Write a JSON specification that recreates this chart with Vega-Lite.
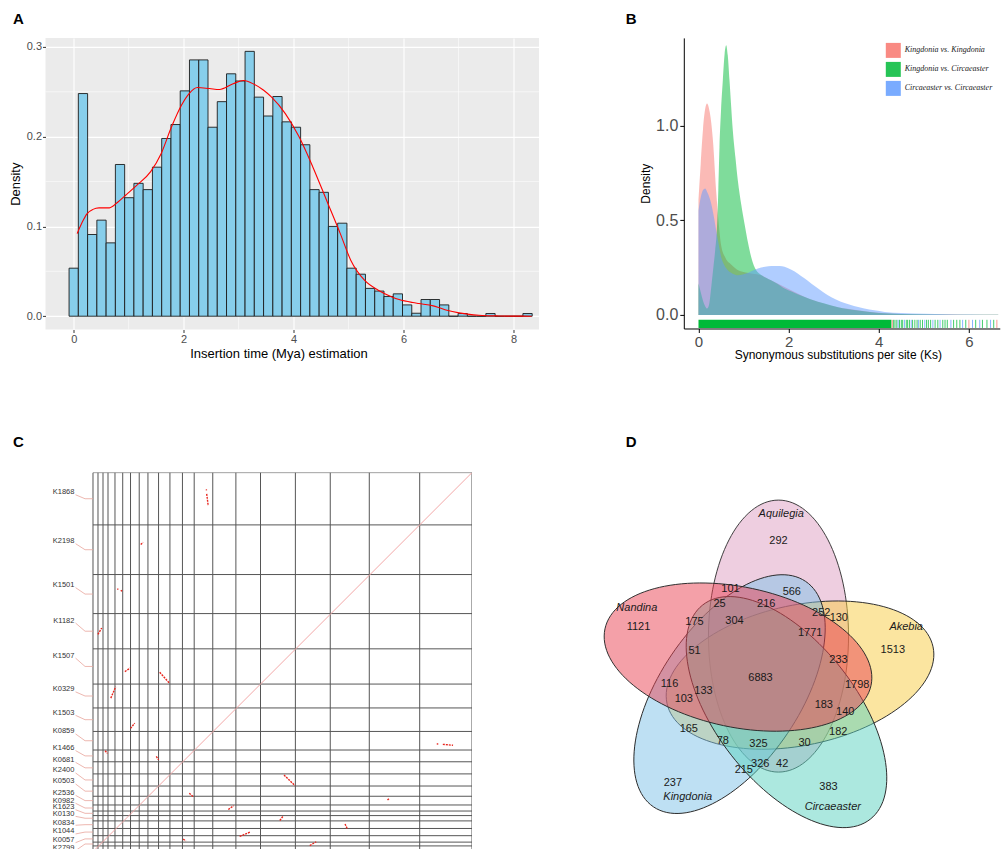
{
"$schema": "https://vega.github.io/schema/vega-lite/v6.json",
"padding": {"left": 8.5, "top": 10.9, "right": 0, "bottom": 0},
"bounds": "flush",
"align": "each",
"columns": 2,
"spacing": {"row": 142.7, "column": 144.3},
"resolve": {"scale": {"color": "independent"}, "legend": {"color": "independent"}},
"config": {"font": "Liberation Sans", "view": {"stroke": null}, "axis": {"titleFontWeight": "normal"}},
"datasets": {
"a_bins": [
{"start":-0.0843,"end":0.0843,"density":0.0535},{"start":0.0843,"end":0.2528,"density":0.248},{"start":0.2528,"end":0.4213,"density":0.091},{"start":0.4213,"end":0.5898,"density":0.107},{"start":0.5898,"end":0.7583,"density":0.0817},
{"start":0.7583,"end":0.9268,"density":0.169},{"start":0.9268,"end":1.0953,"density":0.132},{"start":1.0953,"end":1.2638,"density":0.148},{"start":1.2638,"end":1.4323,"density":0.141},{"start":1.4323,"end":1.6008,"density":0.166},
{"start":1.6008,"end":1.7693,"density":0.198},{"start":1.7693,"end":1.9378,"density":0.2135},{"start":1.9378,"end":2.1063,"density":0.251},{"start":2.1063,"end":2.2748,"density":0.2855},{"start":2.2748,"end":2.4433,"density":0.2855},
{"start":2.4433,"end":2.6118,"density":0.2105},{"start":2.6118,"end":2.7803,"density":0.239},{"start":2.7803,"end":2.9488,"density":0.27},{"start":2.9488,"end":3.1173,"density":0.262},{"start":3.1173,"end":3.2858,"density":0.295},
{"start":3.2858,"end":3.4543,"density":0.244},{"start":3.4543,"end":3.6228,"density":0.223},{"start":3.6228,"end":3.7913,"density":0.2447},{"start":3.7913,"end":3.9598,"density":0.2165},{"start":3.9598,"end":4.1283,"density":0.2105},
{"start":4.1283,"end":4.2968,"density":0.191},{"start":4.2968,"end":4.4653,"density":0.141},{"start":4.4653,"end":4.6338,"density":0.138},{"start":4.6338,"end":4.8023,"density":0.1},{"start":4.8023,"end":4.9708,"density":0.1036},
{"start":4.9708,"end":5.1393,"density":0.0535},{"start":5.1393,"end":5.3078,"density":0.0468},{"start":5.3078,"end":5.4763,"density":0.031},{"start":5.4763,"end":5.6448,"density":0.028},{"start":5.6448,"end":5.8133,"density":0.022},
{"start":5.8133,"end":5.9818,"density":0.0249},{"start":5.9818,"end":6.1503,"density":0.0126},{"start":6.1503,"end":6.3188,"density":0.0033},{"start":6.3188,"end":6.4873,"density":0.0186},{"start":6.4873,"end":6.6558,"density":0.0186},
{"start":6.6558,"end":6.8243,"density":0.0126},{"start":6.8243,"end":6.9928,"density":0},{"start":6.9928,"end":7.1613,"density":0.003},{"start":7.1613,"end":7.3298,"density":0},{"start":7.3298,"end":7.4983,"density":0},
{"start":7.4983,"end":7.6668,"density":0.003},{"start":7.6668,"end":7.8353,"density":0},{"start":7.8353,"end":8.0038,"density":0},{"start":8.0038,"end":8.1723,"density":0},{"start":8.1723,"end":8.3408,"density":0.003}
],
"a_line": [
{"x":0.063,"y":0.092},{"x":0.15,"y":0.104},{"x":0.24,"y":0.114},{"x":0.35,"y":0.119},{"x":0.46,"y":0.1207},{"x":0.65,"y":0.1207},{"x":0.8,"y":0.127},{"x":0.95,"y":0.135},{"x":1.15,"y":0.146},{"x":1.4,"y":0.161},
{"x":1.59,"y":0.181},{"x":1.78,"y":0.211},{"x":1.96,"y":0.235},{"x":2.1,"y":0.248},{"x":2.25,"y":0.2547},{"x":2.47,"y":0.2536},{"x":2.65,"y":0.2525},{"x":2.9,"y":0.259},{"x":3.09,"y":0.2625},{"x":3.28,"y":0.2584},
{"x":3.45,"y":0.252},{"x":3.6,"y":0.244},{"x":3.85,"y":0.2257},{"x":4.1,"y":0.1998},{"x":4.35,"y":0.1663},{"x":4.6,"y":0.1292},{"x":4.85,"y":0.092},{"x":5.04,"y":0.0624},{"x":5.29,"y":0.0401},{"x":5.54,"y":0.029},
{"x":5.79,"y":0.0215},{"x":5.92,"y":0.0186},{"x":6.17,"y":0.0152},{"x":6.28,"y":0.0141},{"x":6.54,"y":0.0115},{"x":6.64,"y":0.0097},{"x":6.79,"y":0.0067},{"x":7.01,"y":0.0037},{"x":7.2,"y":0.002},{"x":7.37,"y":0.0011},
{"x":7.73,"y":0.0003},{"x":8.0,"y":0.0001},{"x":8.33,"y":0}
],
"a_minor_x": [{"v":1},{"v":3},{"v":5},{"v":7}],
"a_minor_y": [{"v":0.05},{"v":0.15},{"v":0.25}],
"b_dens": [
{"g":"Kingdonia vs. Kingdonia","ks":0,"d":0.61},{"g":"Kingdonia vs. Kingdonia","ks":0.05,"d":0.8},{"g":"Kingdonia vs. Kingdonia","ks":0.1,"d":0.98},{"g":"Kingdonia vs. Kingdonia","ks":0.15,"d":1.09},{"g":"Kingdonia vs. Kingdonia","ks":0.19,"d":1.117},
{"g":"Kingdonia vs. Kingdonia","ks":0.25,"d":1.07},{"g":"Kingdonia vs. Kingdonia","ks":0.32,"d":0.923},{"g":"Kingdonia vs. Kingdonia","ks":0.39,"d":0.66},{"g":"Kingdonia vs. Kingdonia","ks":0.45,"d":0.48},{"g":"Kingdonia vs. Kingdonia","ks":0.5,"d":0.37},
{"g":"Kingdonia vs. Kingdonia","ks":0.6,"d":0.3},{"g":"Kingdonia vs. Kingdonia","ks":0.73,"d":0.265},{"g":"Kingdonia vs. Kingdonia","ks":0.85,"d":0.24},{"g":"Kingdonia vs. Kingdonia","ks":1.02,"d":0.225},{"g":"Kingdonia vs. Kingdonia","ks":1.2,"d":0.218},
{"g":"Kingdonia vs. Kingdonia","ks":1.39,"d":0.21},{"g":"Kingdonia vs. Kingdonia","ks":1.55,"d":0.19},{"g":"Kingdonia vs. Kingdonia","ks":1.69,"d":0.174},{"g":"Kingdonia vs. Kingdonia","ks":1.91,"d":0.148},{"g":"Kingdonia vs. Kingdonia","ks":2.2,"d":0.113},
{"g":"Kingdonia vs. Kingdonia","ks":2.45,"d":0.085},{"g":"Kingdonia vs. Kingdonia","ks":2.65,"d":0.069},{"g":"Kingdonia vs. Kingdonia","ks":3.09,"d":0.04},{"g":"Kingdonia vs. Kingdonia","ks":3.53,"d":0.025},{"g":"Kingdonia vs. Kingdonia","ks":4.12,"d":0.009},
{"g":"Kingdonia vs. Kingdonia","ks":4.6,"d":0.004},{"g":"Kingdonia vs. Kingdonia","ks":5.2,"d":0.002},{"g":"Kingdonia vs. Kingdonia","ks":6.0,"d":0.001},{"g":"Kingdonia vs. Kingdonia","ks":6.65,"d":0.0005},
{"g":"Kingdonia vs. Circaeaster","ks":0,"d":0.166},{"g":"Kingdonia vs. Circaeaster","ks":0.05,"d":0.12},{"g":"Kingdonia vs. Circaeaster","ks":0.1,"d":0.075},{"g":"Kingdonia vs. Circaeaster","ks":0.15,"d":0.045},{"g":"Kingdonia vs. Circaeaster","ks":0.193,"d":0.034},
{"g":"Kingdonia vs. Circaeaster","ks":0.24,"d":0.06},{"g":"Kingdonia vs. Circaeaster","ks":0.28,"d":0.14},{"g":"Kingdonia vs. Circaeaster","ks":0.33,"d":0.25},{"g":"Kingdonia vs. Circaeaster","ks":0.37,"d":0.34},{"g":"Kingdonia vs. Circaeaster","ks":0.407,"d":0.447},
{"g":"Kingdonia vs. Circaeaster","ks":0.44,"d":0.66},{"g":"Kingdonia vs. Circaeaster","ks":0.466,"d":0.887},{"g":"Kingdonia vs. Circaeaster","ks":0.5,"d":1.08},{"g":"Kingdonia vs. Circaeaster","ks":0.54,"d":1.24},{"g":"Kingdonia vs. Circaeaster","ks":0.58,"d":1.38},
{"g":"Kingdonia vs. Circaeaster","ks":0.614,"d":1.425},{"g":"Kingdonia vs. Circaeaster","ks":0.65,"d":1.37},{"g":"Kingdonia vs. Circaeaster","ks":0.688,"d":1.24},{"g":"Kingdonia vs. Circaeaster","ks":0.72,"d":1.12},{"g":"Kingdonia vs. Circaeaster","ks":0.761,"d":0.976},
{"g":"Kingdonia vs. Circaeaster","ks":0.82,"d":0.83},{"g":"Kingdonia vs. Circaeaster","ks":0.872,"d":0.711},{"g":"Kingdonia vs. Circaeaster","ks":0.95,"d":0.58},{"g":"Kingdonia vs. Circaeaster","ks":1.02,"d":0.483},{"g":"Kingdonia vs. Circaeaster","ks":1.1,"d":0.38},
{"g":"Kingdonia vs. Circaeaster","ks":1.169,"d":0.306},{"g":"Kingdonia vs. Circaeaster","ks":1.23,"d":0.26},{"g":"Kingdonia vs. Circaeaster","ks":1.28,"d":0.236},{"g":"Kingdonia vs. Circaeaster","ks":1.4,"d":0.21},{"g":"Kingdonia vs. Circaeaster","ks":1.61,"d":0.183},
{"g":"Kingdonia vs. Circaeaster","ks":1.75,"d":0.165},{"g":"Kingdonia vs. Circaeaster","ks":1.91,"d":0.139},{"g":"Kingdonia vs. Circaeaster","ks":2.1,"d":0.12},{"g":"Kingdonia vs. Circaeaster","ks":2.3,"d":0.1},{"g":"Kingdonia vs. Circaeaster","ks":2.5,"d":0.082},
{"g":"Kingdonia vs. Circaeaster","ks":2.8,"d":0.06},{"g":"Kingdonia vs. Circaeaster","ks":3.1,"d":0.04},{"g":"Kingdonia vs. Circaeaster","ks":3.5,"d":0.024},{"g":"Kingdonia vs. Circaeaster","ks":4.0,"d":0.01},{"g":"Kingdonia vs. Circaeaster","ks":4.5,"d":0.005},
{"g":"Kingdonia vs. Circaeaster","ks":5.2,"d":0.002},{"g":"Kingdonia vs. Circaeaster","ks":6.0,"d":0.001},{"g":"Kingdonia vs. Circaeaster","ks":6.65,"d":0.0005},
{"g":"Circaeaster vs. Circaeaster","ks":0,"d":0.55},{"g":"Circaeaster vs. Circaeaster","ks":0.05,"d":0.62},{"g":"Circaeaster vs. Circaeaster","ks":0.1,"d":0.66},{"g":"Circaeaster vs. Circaeaster","ks":0.148,"d":0.668},{"g":"Circaeaster vs. Circaeaster","ks":0.2,"d":0.645},
{"g":"Circaeaster vs. Circaeaster","ks":0.28,"d":0.59},{"g":"Circaeaster vs. Circaeaster","ks":0.34,"d":0.52},{"g":"Circaeaster vs. Circaeaster","ks":0.392,"d":0.447},{"g":"Circaeaster vs. Circaeaster","ks":0.45,"d":0.37},{"g":"Circaeaster vs. Circaeaster","ks":0.503,"d":0.306},
{"g":"Circaeaster vs. Circaeaster","ks":0.58,"d":0.26},{"g":"Circaeaster vs. Circaeaster","ks":0.651,"d":0.236},{"g":"Circaeaster vs. Circaeaster","ks":0.76,"d":0.218},{"g":"Circaeaster vs. Circaeaster","ks":0.872,"d":0.21},{"g":"Circaeaster vs. Circaeaster","ks":0.98,"d":0.214},
{"g":"Circaeaster vs. Circaeaster","ks":1.095,"d":0.222},{"g":"Circaeaster vs. Circaeaster","ks":1.25,"d":0.238},{"g":"Circaeaster vs. Circaeaster","ks":1.39,"d":0.25},{"g":"Circaeaster vs. Circaeaster","ks":1.55,"d":0.257},{"g":"Circaeaster vs. Circaeaster","ks":1.686,"d":0.259},
{"g":"Circaeaster vs. Circaeaster","ks":1.8,"d":0.258},{"g":"Circaeaster vs. Circaeaster","ks":1.908,"d":0.254},{"g":"Circaeaster vs. Circaeaster","ks":2.05,"d":0.24},{"g":"Circaeaster vs. Circaeaster","ks":2.2,"d":0.219},{"g":"Circaeaster vs. Circaeaster","ks":2.35,"d":0.193},
{"g":"Circaeaster vs. Circaeaster","ks":2.5,"d":0.166},{"g":"Circaeaster vs. Circaeaster","ks":2.7,"d":0.132},{"g":"Circaeaster vs. Circaeaster","ks":2.87,"d":0.104},{"g":"Circaeaster vs. Circaeaster","ks":3.05,"d":0.082},{"g":"Circaeaster vs. Circaeaster","ks":3.24,"d":0.063},
{"g":"Circaeaster vs. Circaeaster","ks":3.45,"d":0.047},{"g":"Circaeaster vs. Circaeaster","ks":3.68,"d":0.034},{"g":"Circaeaster vs. Circaeaster","ks":3.9,"d":0.024},{"g":"Circaeaster vs. Circaeaster","ks":4.13,"d":0.016},{"g":"Circaeaster vs. Circaeaster","ks":4.5,"d":0.01},
{"g":"Circaeaster vs. Circaeaster","ks":5.0,"d":0.006},{"g":"Circaeaster vs. Circaeaster","ks":5.5,"d":0.004},{"g":"Circaeaster vs. Circaeaster","ks":6.0,"d":0.002},{"g":"Circaeaster vs. Circaeaster","ks":6.65,"d":0.001}
],
"b_rugband": [{"g":"Kingdonia vs. Circaeaster","from":0,"to":4.28}],
"b_rug": [
{"ks":4.3,"g":"Kingdonia vs. Kingdonia"},{"ks":4.33,"g":"Kingdonia vs. Circaeaster"},{"ks":4.36,"g":"Kingdonia vs. Circaeaster"},{"ks":4.4,"g":"Kingdonia vs. Circaeaster"},{"ks":4.43,"g":"Circaeaster vs. Circaeaster"},
{"ks":4.46,"g":"Kingdonia vs. Circaeaster"},{"ks":4.5,"g":"Kingdonia vs. Circaeaster"},{"ks":4.53,"g":"Kingdonia vs. Circaeaster"},{"ks":4.57,"g":"Circaeaster vs. Circaeaster"},{"ks":4.61,"g":"Kingdonia vs. Circaeaster"},
{"ks":4.64,"g":"Kingdonia vs. Circaeaster"},{"ks":4.68,"g":"Kingdonia vs. Circaeaster"},{"ks":4.72,"g":"Circaeaster vs. Circaeaster"},{"ks":4.75,"g":"Kingdonia vs. Circaeaster"},{"ks":4.8,"g":"Kingdonia vs. Circaeaster"},
{"ks":4.85,"g":"Kingdonia vs. Circaeaster"},{"ks":4.88,"g":"Circaeaster vs. Circaeaster"},{"ks":4.92,"g":"Kingdonia vs. Circaeaster"},{"ks":4.97,"g":"Kingdonia vs. Circaeaster"},{"ks":5.02,"g":"Circaeaster vs. Circaeaster"},
{"ks":5.06,"g":"Kingdonia vs. Circaeaster"},{"ks":5.1,"g":"Kingdonia vs. Circaeaster"},{"ks":5.15,"g":"Kingdonia vs. Circaeaster"},{"ks":5.2,"g":"Circaeaster vs. Circaeaster"},{"ks":5.25,"g":"Kingdonia vs. Circaeaster"},
{"ks":5.31,"g":"Kingdonia vs. Circaeaster"},{"ks":5.36,"g":"Circaeaster vs. Circaeaster"},{"ks":5.42,"g":"Kingdonia vs. Circaeaster"},{"ks":5.47,"g":"Kingdonia vs. Circaeaster"},{"ks":5.52,"g":"Kingdonia vs. Circaeaster"},
{"ks":5.6,"g":"Circaeaster vs. Circaeaster"},{"ks":5.66,"g":"Kingdonia vs. Circaeaster"},{"ks":5.73,"g":"Kingdonia vs. Circaeaster"},{"ks":5.8,"g":"Kingdonia vs. Circaeaster"},{"ks":5.86,"g":"Circaeaster vs. Circaeaster"},
{"ks":5.93,"g":"Kingdonia vs. Circaeaster"},{"ks":6.0,"g":"Kingdonia vs. Kingdonia"},{"ks":6.08,"g":"Circaeaster vs. Circaeaster"},{"ks":6.15,"g":"Kingdonia vs. Circaeaster"},{"ks":6.24,"g":"Circaeaster vs. Circaeaster"},
{"ks":6.3,"g":"Kingdonia vs. Circaeaster"},{"ks":6.4,"g":"Kingdonia vs. Circaeaster"},{"ks":6.48,"g":"Circaeaster vs. Circaeaster"},{"ks":6.55,"g":"Kingdonia vs. Circaeaster"},{"ks":6.62,"g":"Kingdonia vs. Kingdonia"}
],
"c_vlines": [{"pos":0},{"pos":1.32},{"pos":2.64},{"pos":3.96},{"pos":5.8},{"pos":7.84},{"pos":9.9},{"pos":12.2},{"pos":14.5},{"pos":17.3},{"pos":20.3},{"pos":23.6},{"pos":26.7},{"pos":31.6},{"pos":37.7},{"pos":44.2},{"pos":53.4},{"pos":62.6},{"pos":72.9},{"pos":86.2},{"pos":100}],
"c_hlines": [{"pos":0},{"pos":13.8},{"pos":26.9},{"pos":37.2},{"pos":46.5},{"pos":55.8},{"pos":62.1},{"pos":68.3},{"pos":73.2},{"pos":76.3},{"pos":79.5},{"pos":82.7},{"pos":85.4},{"pos":87.7},{"pos":89.3},{"pos":90.5},{"pos":91.9},{"pos":93.9},{"pos":95.8},{"pos":97.5},{"pos":98.5}],
"c_diag": [{"x1":0,"y1":100,"x2":100,"y2":0}],
"c_labels": [
{"label":"K1868","ly":5.85,"ty":6.9},{"label":"K2198","ly":18.75,"ty":20.35},{"label":"K1501","ly":30.35,"ty":32.05},{"label":"K1182","ly":39.7,"ty":41.85},{"label":"K1507","ly":48.95,"ty":51.15},
{"label":"K0329","ly":57.85,"ty":58.95},{"label":"K1503","ly":64.05,"ty":65.2},{"label":"K0859","ly":68.95,"ty":70.75},{"label":"K1466","ly":73.35,"ty":74.75},{"label":"K0681","ly":76.45,"ty":77.9},
{"label":"K2400","ly":79.25,"ty":81.1},{"label":"K0503","ly":82.15,"ty":84.05},{"label":"K2536","ly":85.15,"ty":86.55},{"label":"K0982","ly":87.25,"ty":88.5},{"label":"K1623","ly":88.95,"ty":89.9},
{"label":"K0130","ly":90.7,"ty":91.2},{"label":"K0834","ly":93.05,"ty":92.9},{"label":"K1044","ly":95.35,"ty":94.85},{"label":"K0057","ly":97.65,"ty":96.65},{"label":"K2799","ly":99.75,"ty":98.0}
],
"c_blocks": [
{"x1":29.9,"y1":4.4,"x2":29.95,"y2":4.7},{"x1":30.0,"y1":5.6,"x2":30.4,"y2":8.8},{"x1":12.6,"y1":19.0,"x2":13.2,"y2":18.4},{"x1":6.4,"y1":30.7,"x2":6.7,"y2":30.8},{"x1":7.3,"y1":31.1,"x2":7.7,"y2":31.3},
{"x1":1.3,"y1":42.7,"x2":2.3,"y2":41.0},{"x1":8.4,"y1":52.5,"x2":9.8,"y2":51.6},{"x1":17.6,"y1":52.7,"x2":20.2,"y2":55.6},{"x1":4.7,"y1":59.5,"x2":6.0,"y2":56.5},{"x1":9.9,"y1":67.5,"x2":11.0,"y2":66.1},
{"x1":90.7,"y1":71.6,"x2":91.1,"y2":71.6},{"x1":92.3,"y1":71.7,"x2":95.0,"y2":71.95},{"x1":3.2,"y1":73.4,"x2":3.8,"y2":74.1},{"x1":16.7,"y1":74.9,"x2":17.3,"y2":75.8},{"x1":50.4,"y1":79.8,"x2":53.3,"y2":82.6},
{"x1":25.4,"y1":84.6,"x2":26.4,"y2":85.5},{"x1":77.7,"y1":86.4,"x2":78.2,"y2":85.9},{"x1":35.7,"y1":88.9,"x2":37.1,"y2":87.9},{"x1":49.3,"y1":91.8,"x2":50.1,"y2":90.7},{"x1":66.5,"y1":92.7,"x2":67.1,"y2":94.0},
{"x1":38.7,"y1":96.0,"x2":41.6,"y2":94.8},{"x1":23.8,"y1":96.7,"x2":24.5,"y2":97.2},{"x1":57.2,"y1":98.4,"x2":58.9,"y2":97.4}
],
"d_sets": [
{"set":"Aquilegia","u":50.13,"v":56.5,"angle":90},
{"set":"Akebia","u":55.84,"v":46.15,"angle":348},
{"set":"Kingdonia","u":37.14,"v":41.11,"angle":304},
{"set":"Circaeaster","u":52.25,"v":36.34,"angle":52},
{"set":"Nandina","u":39.39,"v":50.93,"angle":12}
],
"d_counts": [
{"n":"292","u":50.13,"v":81.7},{"n":"101","u":37.4,"v":68.9},{"n":"566","u":53.66,"v":68.17},{"n":"25","u":34.48,"v":64.99},{"n":"216","u":46.87,"v":64.99},
{"n":"1121","u":13.0,"v":58.97},{"n":"175","u":27.85,"v":60.29},{"n":"304","u":38.46,"v":60.48},{"n":"252","u":61.46,"v":62.52},{"n":"130","u":66.13,"v":61.19},
{"n":"1771","u":58.54,"v":57.21},{"n":"51","u":27.85,"v":52.6},{"n":"1513","u":80.45,"v":52.79},{"n":"233","u":66.05,"v":50.27},{"n":"6883","u":45.36,"v":45.5},
{"n":"116","u":21.22,"v":43.77},{"n":"1798","u":71.0,"v":43.5},{"n":"133","u":30.24,"v":41.96},{"n":"103","u":25.01,"v":39.79},{"n":"183","u":62.15,"v":38.2},
{"n":"140","u":67.82,"v":36.26},{"n":"165","u":26.34,"v":31.83},{"n":"182","u":65.97,"v":31.11},{"n":"78","u":35.36,"v":28.73},{"n":"325","u":44.83,"v":27.85},
{"n":"30","u":57.03,"v":28.04},{"n":"326","u":45.28,"v":22.55},{"n":"42","u":51.11,"v":22.55},{"n":"215","u":40.93,"v":20.95},{"n":"237","u":22.1,"v":17.64},{"n":"383","u":63.4,"v":16.5}
],
"d_names": [
{"n":"Aquilegia","u":50.85,"v":88.86},{"n":"Nandina","u":12.55,"v":63.85},{"n":"Akebia","u":84.0,"v":58.97},{"n":"Kingdonia","u":26.07,"v":13.69},{"n":"Circaeaster","u":64.54,"v":11.22}
]
},
"concat": [
{
"width": 493.5, "height": 291.6,
"view": {"fill": "#EBEBEB", "stroke": null},
"title": {"text": "A", "anchor": "start", "frame": "group", "dx": -32.5, "offset": 10.8, "fontSize": 15, "fontWeight": "bold", "color": "#000000"},
"layer": [
{"data": {"name": "a_minor_x"}, "mark": {"type": "rule", "color": "#FFFFFF", "strokeWidth": 0.55},
 "encoding": {"x": {"field": "v", "type": "quantitative", "scale": {"domain": [-0.513, 8.465], "nice": false, "zero": false},
   "axis": {"values": [0, 2, 4, 6, 8], "grid": true, "gridColor": "#FFFFFF", "gridWidth": 1.1, "domain": false, "tickColor": "#333333", "tickSize": 3, "labelColor": "#4D4D4D", "labelFontSize": 11, "labelPadding": 1.5, "title": "Insertion time (Mya) estimation", "titleFontSize": 13, "titleColor": "#000000", "titlePadding": 3, "titleX": 233}}}},
{"data": {"name": "a_minor_y"}, "mark": {"type": "rule", "color": "#FFFFFF", "strokeWidth": 0.55},
 "encoding": {"y": {"field": "v", "type": "quantitative", "scale": {"domain": [-0.0148, 0.31], "nice": false, "zero": false},
   "axis": {"values": [0, 0.1, 0.2, 0.3], "format": ".1f", "grid": true, "gridColor": "#FFFFFF", "gridWidth": 1.1, "domain": false, "tickColor": "#333333", "tickSize": 3, "labelColor": "#4D4D4D", "labelFontSize": 11, "labelPadding": 1, "title": "Density", "titleFontSize": 13, "titleColor": "#000000", "titlePadding": 4}}}},
{"data": {"name": "a_bins"}, "mark": {"type": "rect", "fill": "#87CEEB", "stroke": "#1C1C1C", "strokeWidth": 0.9},
 "encoding": {
  "x": {"field": "start", "type": "quantitative", "scale": {"domain": [-0.513, 8.465], "nice": false, "zero": false},
   "axis": {"values": [0, 2, 4, 6, 8], "grid": true, "gridColor": "#FFFFFF", "gridWidth": 1.1, "domain": false, "tickColor": "#333333", "tickSize": 3, "labelColor": "#4D4D4D", "labelFontSize": 11, "labelPadding": 1.5, "title": "Insertion time (Mya) estimation", "titleFontSize": 13, "titleColor": "#000000", "titlePadding": 3, "titleX": 233}},
  "x2": {"field": "end"},
  "y": {"field": "density", "type": "quantitative", "scale": {"domain": [-0.0148, 0.31], "nice": false, "zero": false},
   "axis": {"values": [0, 0.1, 0.2, 0.3], "format": ".1f", "grid": true, "gridColor": "#FFFFFF", "gridWidth": 1.1, "domain": false, "tickColor": "#333333", "tickSize": 3, "labelColor": "#4D4D4D", "labelFontSize": 11, "labelPadding": 1, "title": "Density", "titleFontSize": 13, "titleColor": "#000000", "titlePadding": 4}},
  "y2": {"datum": 0}
 }},
{"data": {"name": "a_line"}, "mark": {"type": "line", "color": "#FF0000", "strokeWidth": 1.1, "interpolate": "monotone"},
 "encoding": {
  "x": {"field": "x", "type": "quantitative", "scale": {"domain": [-0.513, 8.465], "nice": false, "zero": false},
   "axis": {"values": [0, 2, 4, 6, 8], "grid": true, "gridColor": "#FFFFFF", "gridWidth": 1.1, "domain": false, "tickColor": "#333333", "tickSize": 3, "labelColor": "#4D4D4D", "labelFontSize": 11, "labelPadding": 1.5, "title": "Insertion time (Mya) estimation", "titleFontSize": 13, "titleColor": "#000000", "titlePadding": 3, "titleX": 233}},
  "y": {"field": "y", "type": "quantitative", "scale": {"domain": [-0.0148, 0.31], "nice": false, "zero": false},
   "axis": {"values": [0, 0.1, 0.2, 0.3], "format": ".1f", "grid": true, "gridColor": "#FFFFFF", "gridWidth": 1.1, "domain": false, "tickColor": "#333333", "tickSize": 3, "labelColor": "#4D4D4D", "labelFontSize": 11, "labelPadding": 1, "title": "Density", "titleFontSize": 13, "titleColor": "#000000", "titlePadding": 4}}
 }}
]
},
{
"width": 316, "height": 290.6,
"title": {"text": "B", "anchor": "start", "frame": "group", "dx": -58, "offset": 10.8, "fontSize": 15, "fontWeight": "bold", "color": "#000000"},
"layer": [
{"data": {"name": "b_dens"}, "transform": [{"filter": {"field": "g", "equal": "Kingdonia vs. Kingdonia"}}],
 "mark": {"type": "area", "opacity": 0.5, "interpolate": "monotone"},
 "encoding": {
  "x": {"field": "ks", "type": "quantitative", "scale": {"domain": [-0.326, 6.685], "nice": false, "zero": false},
   "axis": {"values": [0, 2, 4, 6], "grid": false, "domain": true, "domainColor": "#000000", "domainWidth": 1, "tickColor": "#000000", "tickSize": 4, "labelColor": "#4D4D4D", "labelFontSize": 15, "labelPadding": 2, "title": "Synonymous substitutions per site (Ks)", "titleFontSize": 12, "titleColor": "#000000", "titlePadding": 0.5, "titleX": 154}},
  "y": {"field": "d", "type": "quantitative", "scale": {"domain": [-0.0718, 1.4633], "nice": false, "zero": false},
   "axis": {"values": [0, 0.5, 1], "format": ".1f", "grid": false, "domain": true, "domainColor": "#000000", "domainWidth": 1, "tickColor": "#000000", "tickSize": 4, "labelColor": "#4D4D4D", "labelFontSize": 16, "labelPadding": 2, "title": "Density", "titleFontSize": 12, "titleColor": "#000000", "titlePadding": 3}},
  "y2": {"datum": 0},
  "color": {"field": "g", "type": "nominal",
   "scale": {"domain": ["Kingdonia vs. Kingdonia", "Kingdonia vs. Circaeaster", "Circaeaster vs. Circaeaster"], "range": ["#F8766D", "#00BA38", "#619CFF"]},
   "legend": {"orient": "none", "legendX": 202, "legendY": 5, "title": null, "symbolType": "square", "symbolSize": 225, "symbolOpacity": 0.85, "symbolStrokeWidth": 0, "labelFont": "Liberation Serif", "labelFontStyle": "italic", "labelFontSize": 8, "labelColor": "#222222", "rowPadding": 4, "labelOffset": 4, "padding": 0}}
 }},
{"data": {"name": "b_dens"}, "transform": [{"filter": {"field": "g", "equal": "Kingdonia vs. Circaeaster"}}],
 "mark": {"type": "area", "opacity": 0.5, "interpolate": "monotone"},
 "encoding": {
  "x": {"field": "ks", "type": "quantitative", "scale": {"domain": [-0.326, 6.685], "nice": false, "zero": false},
   "axis": {"values": [0, 2, 4, 6], "grid": false, "domain": true, "domainColor": "#000000", "domainWidth": 1, "tickColor": "#000000", "tickSize": 4, "labelColor": "#4D4D4D", "labelFontSize": 15, "labelPadding": 2, "title": "Synonymous substitutions per site (Ks)", "titleFontSize": 12, "titleColor": "#000000", "titlePadding": 0.5, "titleX": 154}},
  "y": {"field": "d", "type": "quantitative", "scale": {"domain": [-0.0718, 1.4633], "nice": false, "zero": false},
   "axis": {"values": [0, 0.5, 1], "format": ".1f", "grid": false, "domain": true, "domainColor": "#000000", "domainWidth": 1, "tickColor": "#000000", "tickSize": 4, "labelColor": "#4D4D4D", "labelFontSize": 16, "labelPadding": 2, "title": "Density", "titleFontSize": 12, "titleColor": "#000000", "titlePadding": 3}},
  "y2": {"datum": 0},
  "color": {"field": "g", "type": "nominal",
   "scale": {"domain": ["Kingdonia vs. Kingdonia", "Kingdonia vs. Circaeaster", "Circaeaster vs. Circaeaster"], "range": ["#F8766D", "#00BA38", "#619CFF"]},
   "legend": {"orient": "none", "legendX": 202, "legendY": 5, "title": null, "symbolType": "square", "symbolSize": 225, "symbolOpacity": 0.85, "symbolStrokeWidth": 0, "labelFont": "Liberation Serif", "labelFontStyle": "italic", "labelFontSize": 8, "labelColor": "#222222", "rowPadding": 4, "labelOffset": 4, "padding": 0}}
 }},
{"data": {"name": "b_dens"}, "transform": [{"filter": {"field": "g", "equal": "Circaeaster vs. Circaeaster"}}],
 "mark": {"type": "area", "opacity": 0.5, "interpolate": "monotone"},
 "encoding": {
  "x": {"field": "ks", "type": "quantitative", "scale": {"domain": [-0.326, 6.685], "nice": false, "zero": false},
   "axis": {"values": [0, 2, 4, 6], "grid": false, "domain": true, "domainColor": "#000000", "domainWidth": 1, "tickColor": "#000000", "tickSize": 4, "labelColor": "#4D4D4D", "labelFontSize": 15, "labelPadding": 2, "title": "Synonymous substitutions per site (Ks)", "titleFontSize": 12, "titleColor": "#000000", "titlePadding": 0.5, "titleX": 154}},
  "y": {"field": "d", "type": "quantitative", "scale": {"domain": [-0.0718, 1.4633], "nice": false, "zero": false},
   "axis": {"values": [0, 0.5, 1], "format": ".1f", "grid": false, "domain": true, "domainColor": "#000000", "domainWidth": 1, "tickColor": "#000000", "tickSize": 4, "labelColor": "#4D4D4D", "labelFontSize": 16, "labelPadding": 2, "title": "Density", "titleFontSize": 12, "titleColor": "#000000", "titlePadding": 3}},
  "y2": {"datum": 0},
  "color": {"field": "g", "type": "nominal",
   "scale": {"domain": ["Kingdonia vs. Kingdonia", "Kingdonia vs. Circaeaster", "Circaeaster vs. Circaeaster"], "range": ["#F8766D", "#00BA38", "#619CFF"]},
   "legend": {"orient": "none", "legendX": 202, "legendY": 5, "title": null, "symbolType": "square", "symbolSize": 225, "symbolOpacity": 0.85, "symbolStrokeWidth": 0, "labelFont": "Liberation Serif", "labelFontStyle": "italic", "labelFontSize": 8, "labelColor": "#222222", "rowPadding": 4, "labelOffset": 4, "padding": 0}}
 }},
{"data": {"name": "b_rugband"}, "mark": {"type": "rect", "fill": "#00BA38"},
 "encoding": {
  "x": {"field": "from", "type": "quantitative", "scale": {"domain": [-0.326, 6.685], "nice": false, "zero": false},
   "axis": {"values": [0, 2, 4, 6], "grid": false, "domain": true, "domainColor": "#000000", "domainWidth": 1, "tickColor": "#000000", "tickSize": 4, "labelColor": "#4D4D4D", "labelFontSize": 15, "labelPadding": 2, "title": "Synonymous substitutions per site (Ks)", "titleFontSize": 12, "titleColor": "#000000", "titlePadding": 0.5, "titleX": 154}},
  "x2": {"field": "to"},
  "y": {"datum": -0.026, "type": "quantitative", "scale": {"domain": [-0.0718, 1.4633], "nice": false, "zero": false},
   "axis": {"values": [0, 0.5, 1], "format": ".1f", "grid": false, "domain": true, "domainColor": "#000000", "domainWidth": 1, "tickColor": "#000000", "tickSize": 4, "labelColor": "#4D4D4D", "labelFontSize": 16, "labelPadding": 2, "title": "Density", "titleFontSize": 12, "titleColor": "#000000", "titlePadding": 3}},
  "y2": {"datum": -0.069}
 }},
{"data": {"name": "b_rug"}, "mark": {"type": "rule", "strokeWidth": 1, "opacity": 0.75},
 "encoding": {
  "x": {"field": "ks", "type": "quantitative", "scale": {"domain": [-0.326, 6.685], "nice": false, "zero": false},
   "axis": {"values": [0, 2, 4, 6], "grid": false, "domain": true, "domainColor": "#000000", "domainWidth": 1, "tickColor": "#000000", "tickSize": 4, "labelColor": "#4D4D4D", "labelFontSize": 15, "labelPadding": 2, "title": "Synonymous substitutions per site (Ks)", "titleFontSize": 12, "titleColor": "#000000", "titlePadding": 0.5, "titleX": 154}},
  "y": {"datum": -0.026, "type": "quantitative", "scale": {"domain": [-0.0718, 1.4633], "nice": false, "zero": false},
   "axis": {"values": [0, 0.5, 1], "format": ".1f", "grid": false, "domain": true, "domainColor": "#000000", "domainWidth": 1, "tickColor": "#000000", "tickSize": 4, "labelColor": "#4D4D4D", "labelFontSize": 16, "labelPadding": 2, "title": "Density", "titleFontSize": 12, "titleColor": "#000000", "titlePadding": 3}},
  "y2": {"datum": -0.069},
  "stroke": {"field": "g", "type": "nominal", "scale": {"domain": ["Kingdonia vs. Kingdonia", "Kingdonia vs. Circaeaster", "Circaeaster vs. Circaeaster"], "range": ["#F8766D", "#00BA38", "#619CFF"]}, "legend": null}
 }}
]
},
{
"width": 426.5, "height": 376.5,
"title": {"text": "C", "anchor": "start", "frame": "group", "dx": -32.5, "offset": 22.5, "fontSize": 15, "fontWeight": "bold", "color": "#000000"},
"layer": [
{"data": {"name": "c_vlines"}, "mark": {"type": "rule", "color": "#555555", "strokeWidth": 1, "clip": true},
 "encoding": {
  "x": {"field": "pos", "type": "quantitative", "scale": {"domain": [-12.53, 100], "nice": false, "zero": false}, "axis": null},
  "y": {"datum": 0, "type": "quantitative", "scale": {"domain": [0, 99.34], "nice": false, "zero": false, "reverse": true}, "axis": null},
  "y2": {"datum": 100}
 }},
{"data": {"name": "c_hlines"}, "mark": {"type": "rule", "color": "#555555", "strokeWidth": 1, "clip": true},
 "encoding": {
  "y": {"field": "pos", "type": "quantitative", "scale": {"domain": [0, 99.34], "nice": false, "zero": false, "reverse": true}, "axis": null},
  "x": {"datum": 0, "type": "quantitative", "scale": {"domain": [-12.53, 100], "nice": false, "zero": false}, "axis": null},
  "x2": {"datum": 100}
 }},
{"data": {"name": "c_diag"}, "mark": {"type": "rule", "color": "#F2A7A7", "strokeWidth": 1, "clip": true},
 "encoding": {
  "x": {"field": "x1", "type": "quantitative", "scale": {"domain": [-12.53, 100], "nice": false, "zero": false}, "axis": null},
  "y": {"field": "y1", "type": "quantitative", "scale": {"domain": [0, 99.34], "nice": false, "zero": false, "reverse": true}, "axis": null},
  "x2": {"field": "x2"}, "y2": {"field": "y2"}
 }},
{"data": {"name": "c_labels"}, "mark": {"type": "rule", "color": "#E9A49C", "strokeWidth": 0.8, "clip": true},
 "encoding": {
  "x": {"datum": -4.6, "type": "quantitative", "scale": {"domain": [-12.53, 100], "nice": false, "zero": false}, "axis": null},
  "y": {"field": "ly", "type": "quantitative", "scale": {"domain": [0, 99.34], "nice": false, "zero": false, "reverse": true}, "axis": null},
  "x2": {"datum": -2.1}, "y2": {"field": "ty"}
 }},
{"data": {"name": "c_labels"}, "mark": {"type": "rule", "color": "#E9A49C", "strokeWidth": 0.8, "clip": true},
 "encoding": {
  "x": {"datum": -2.1, "type": "quantitative", "scale": {"domain": [-12.53, 100], "nice": false, "zero": false}, "axis": null},
  "y": {"field": "ty", "type": "quantitative", "scale": {"domain": [0, 99.34], "nice": false, "zero": false, "reverse": true}, "axis": null},
  "x2": {"datum": 0}
 }},
{"data": {"name": "c_blocks"}, "mark": {"type": "rule", "color": "#E8261E", "strokeWidth": 1.4, "strokeDash": [2, 1], "clip": true},
 "encoding": {
  "x": {"field": "x1", "type": "quantitative", "scale": {"domain": [-12.53, 100], "nice": false, "zero": false}, "axis": null},
  "y": {"field": "y1", "type": "quantitative", "scale": {"domain": [0, 99.34], "nice": false, "zero": false, "reverse": true}, "axis": null},
  "x2": {"field": "x2"}, "y2": {"field": "y2"}
 }},
{"data": {"name": "c_labels"}, "mark": {"type": "text", "align": "right", "baseline": "middle", "dy": -2.5, "fontSize": 7.5, "color": "#333333", "clip": true},
 "encoding": {
  "x": {"datum": -4.9, "type": "quantitative", "scale": {"domain": [-12.53, 100], "nice": false, "zero": false}, "axis": null},
  "y": {"field": "ly", "type": "quantitative", "scale": {"domain": [0, 99.34], "nice": false, "zero": false, "reverse": true}, "axis": null},
  "text": {"field": "label"}
 }}
]
},
{
"width": 300, "height": 376.5,
"title": {"text": "D", "anchor": "start", "frame": "group", "dx": -58, "offset": 22.5, "fontSize": 15, "fontWeight": "bold", "color": "#000000"},
"layer": [
{"data": {"name": "d_sets"}, "mark": {"type": "point", "shape": "M-1,0C-1,-0.2844,-0.5523,-0.515,0,-0.515C0.5523,-0.515,1,-0.2844,1,0C1,0.2844,0.5523,0.515,0,0.515C-0.5523,0.515,-1,0.2844,-1,0Z", "filled": true, "size": 73984, "opacity": 1, "fillOpacity": 0.5, "stroke": "#2A2A2A", "strokeWidth": 0.9, "strokeOpacity": 1},
 "encoding": {
  "x": {"field": "u", "type": "quantitative", "scale": {"domain": [25.01, 104.59], "nice": false, "zero": false}, "axis": null},
  "y": {"field": "v", "type": "quantitative", "scale": {"domain": [0, 99.87], "nice": false, "zero": false}, "axis": null},
  "angle": {"field": "angle", "type": "quantitative", "scale": null},
  "fill": {"field": "set", "type": "nominal", "scale": {"domain": ["Aquilegia", "Akebia", "Kingdonia", "Circaeaster", "Nandina"], "range": ["#DD9DC1", "#F7CB41", "#7DC1E7", "#59D1BF", "#E94151"]}, "legend": null}
 }},
{"data": {"name": "d_counts"}, "mark": {"type": "text", "fontSize": 11, "color": "#1A1A1A", "baseline": "middle", "align": "center"},
 "encoding": {
  "x": {"field": "u", "type": "quantitative", "scale": {"domain": [25.01, 104.59], "nice": false, "zero": false}, "axis": null},
  "y": {"field": "v", "type": "quantitative", "scale": {"domain": [0, 99.87], "nice": false, "zero": false}, "axis": null},
  "text": {"field": "n"}
 }},
{"data": {"name": "d_names"}, "mark": {"type": "text", "fontSize": 11, "fontStyle": "italic", "color": "#1A1A1A", "baseline": "middle", "align": "center"},
 "encoding": {
  "x": {"field": "u", "type": "quantitative", "scale": {"domain": [25.01, 104.59], "nice": false, "zero": false}, "axis": null},
  "y": {"field": "v", "type": "quantitative", "scale": {"domain": [0, 99.87], "nice": false, "zero": false}, "axis": null},
  "text": {"field": "n"}
 }}
]
}
]
}
